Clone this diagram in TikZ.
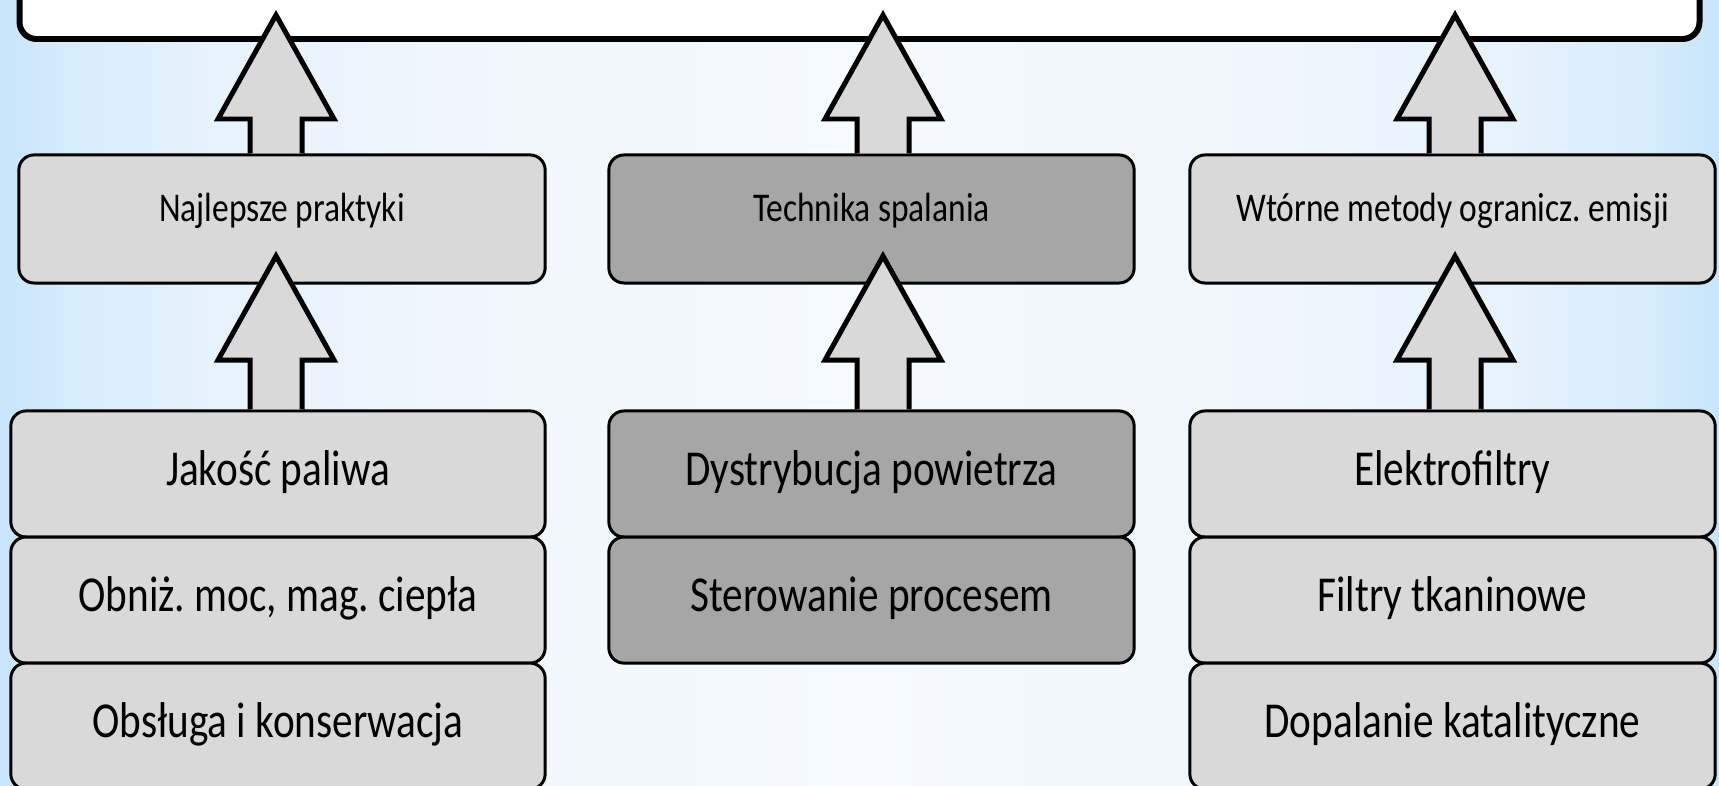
\documentclass[tikz,border=0pt]{standalone}
\usepackage{fontspec}
\setmainfont{Carlito}[FakeStretch=0.82]
\frenchspacing
\usepackage{xcolor}
\usetikzlibrary{calc,positioning}

\definecolor{bgedge}{HTML}{C8E5FB}
\definecolor{bgnear}{HTML}{D6ECFB}
\definecolor{bgmid}{HTML}{E6F2FC}
\definecolor{bglight}{HTML}{EFF6FD}
\definecolor{bgcenter}{HTML}{F6FAFE}
\definecolor{boxlight}{HTML}{D9D9D9}
\definecolor{boxdark}{HTML}{A6A6A6}

\pgfdeclarehorizontalshading{bgfade}{100bp}{color(0bp)=(bgedge); color(25bp)=(bgedge); color(27bp)=(bgnear); color(31bp)=(bgmid); color(37.5bp)=(bglight); color(50bp)=(bgcenter); color(62.5bp)=(bglight); color(69bp)=(bgmid); color(73bp)=(bgnear); color(75bp)=(bgedge); color(100bp)=(bgedge)}

\begin{document}
\begin{tikzpicture}[
    x=0.01cm, y=0.01cm,
    box/.style={draw=black, fill=boxlight, line width=0.85pt, rounded corners=4.3pt,
                outer sep=0pt, inner sep=0pt, align=center},
    headbox/.style={box, minimum width=5.25cm, minimum height=1.28cm,
                    font=\fontsize{11.6}{13}\selectfont, text height=7pt, text depth=5.8pt},
    itembox/.style={box, minimum width=5.25cm, minimum height=1.26cm,
                    font=\fontsize{14.3}{17}\selectfont, text height=10pt, text depth=3.6pt},
    darkbox/.style={fill=boxdark},
    liftarr/.style={draw=black, fill=boxlight, line width=1.42pt, line join=miter},
    node distance=0pt,
  ]
  \useasboundingbox (0,0) rectangle (1719,786);
  \clip (0,0) rectangle (1719,786);
  \shade[shading=bgfade] (0,0) rectangle (1719,786);

  % Goal frame (cut by the top edge)
  \node[draw=black, fill=white, line width=1.7pt, rounded corners=0.17cm,
        minimum width=16.79cm, minimum height=1.2cm] (goal) at (859.5,807) {};

  % Left column
  \node[headbox, minimum width=5.26cm] (best) at (282,567) {Najlepsze praktyki};
  \node[itembox, minimum width=5.34cm] (fuel) at (278,312) {Jakość paliwa};
  \node[itembox, minimum width=5.34cm, below=of fuel] (load) {Obniż. moc, mag. ciepła};
  \node[itembox, minimum width=5.34cm, below=of load] (care) {Obsługa i konserwacja};

  % Middle column
  \node[headbox, darkbox] (comb) at (871.5,567) {Technika spalania};
  \node[itembox, darkbox] (air)  at (871.5,312) {Dystrybucja powietrza};
  \node[itembox, darkbox, below=of air] (ctrl) {Sterowanie procesem};

  % Right column
  \node[headbox] (sec) at (1452.5,567) {Wtórne metody ogranicz. emisji};
  \node[itembox] (esp) at (1452.5,312) {Elektrofiltry};
  \node[itembox, below=of esp] (bag) {Filtry tkaninowe};
  \node[itembox, below=of bag] (cat) {Dopalanie katalityczne};

  % Arrow axes
  \coordinate (axL) at (276,0);
  \coordinate (axM) at (883,0);
  \coordinate (axR) at (1455,0);

  % Block arrows
  \foreach \lo/\up/\ax in {fuel/best/axL, best/goal/axL, air/comb/axM,
                           comb/goal/axM, esp/sec/axR, sec/goal/axR} {
    \coordinate (base) at ($(\ax |- \lo.north)+(0,1.5)$);
    \coordinate (tip)  at ($(\ax |- \up.south)+(0,27)$);
    \draw[liftarr] ($(base)+(-26,0)$) -- ($(tip)+(-26,-104)$) -- ($(tip)+(-58,-104)$)
      -- (tip) -- ($(tip)+(58,-104)$) -- ($(tip)+(26,-104)$) -- ($(base)+(26,0)$);
  }
\end{tikzpicture}
\end{document}
